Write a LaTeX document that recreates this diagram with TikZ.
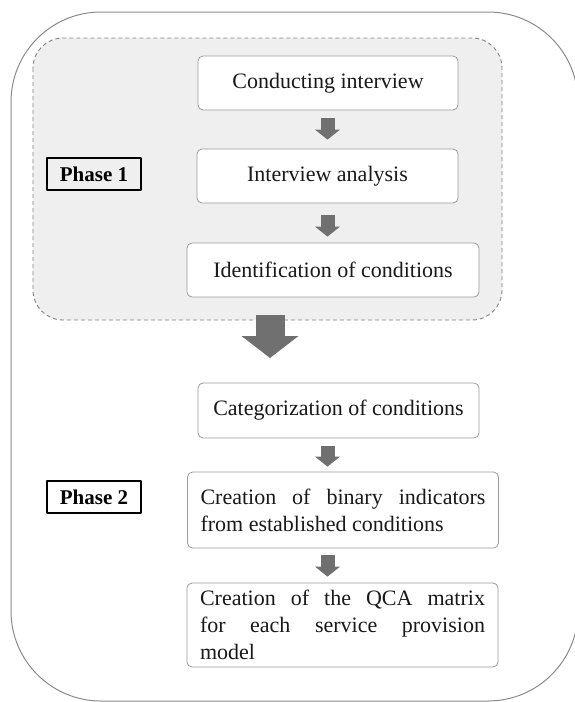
\documentclass[tikz,border=0pt]{standalone}
\usepackage{fontspec}
\setmainfont{Liberation Serif}
\usetikzlibrary{arrows.meta}
\definecolor{boxgray}{HTML}{9A9A9A}
\definecolor{arrowgray}{HTML}{707070}
\definecolor{areafill}{HTML}{EFEFEF}
\definecolor{outergray}{HTML}{8A8A8A}
\tikzset{
  stepbox/.style={draw=boxgray, fill=white, rounded corners=5pt, line width=0.8pt,
    minimum height=54pt, align=center, text=black!90,
    font=\fontsize{22}{27}\selectfont},
  longbox/.style={stepbox, text width=285pt, align=justify, inner xsep=13pt},
  phaselabel/.style={draw=black, line width=1.1pt, minimum width=94pt,
    minimum height=32pt, font=\bfseries\fontsize{21}{24}\selectfont},
  smallarrow/.style={draw=arrowgray, line width=14pt,
    -{Triangle[width=25pt,length=10pt,line width=0pt]}},
  bigarrow/.style={draw=arrowgray, line width=29pt,
    -{Triangle[width=57pt,length=22pt,line width=0pt]}}
}
\begin{document}
\begin{tikzpicture}[x=1pt,y=-1pt,line join=round]
\useasboundingbox (0,0) rectangle (575,702);
% outer frame and phase 1 area
\draw[outergray,line width=1pt,rounded corners=90pt] (11,12) rectangle (578,701);
\draw[boxgray!85!black,fill=areafill,line width=0.9pt,dash pattern=on 4pt off 3pt,rounded corners=30pt] (33,38) rectangle (502,320);
\coordinate (bigtop) at (270,315);
\coordinate (bigtip) at (270,358);
\draw[bigarrow] (bigtop) -- (bigtip);
% phase 1
\node[stepbox,minimum width=260pt] (b1) at (328,83) {Conducting interview};
\node[stepbox,minimum width=261pt] (b2) at (327.5,176) {Interview analysis};
\node[stepbox,minimum width=292pt] (b3) at (333,270) {Identification of conditions};
\node[phaselabel] (p1) at (94,174) {Phase 1};
% phase 2
\node[stepbox,minimum width=281pt,minimum height=55pt] (b4) at (338.5,410.5) {Categorization of conditions};
\node[longbox,minimum height=76pt] (b5) at (343,510) {Creation of binary indicators\linebreak from established conditions};
\node[longbox,minimum height=84pt] (b6) at (342.5,625) {Creation of the QCA matrix\linebreak for each service provision\linebreak model};
\node[phaselabel] (p2) at (94,497) {Phase 2};
\foreach \a/\b/\s/\e in {b1/b2/8/9,b2/b3/12/6,b4/b5/8/5,b5/b6/7/6}
  \draw[smallarrow,shorten <=\s pt,shorten >=\e pt] (\a.south -| b2) -- (\b.north -| b2);
\end{tikzpicture}
\end{document}
